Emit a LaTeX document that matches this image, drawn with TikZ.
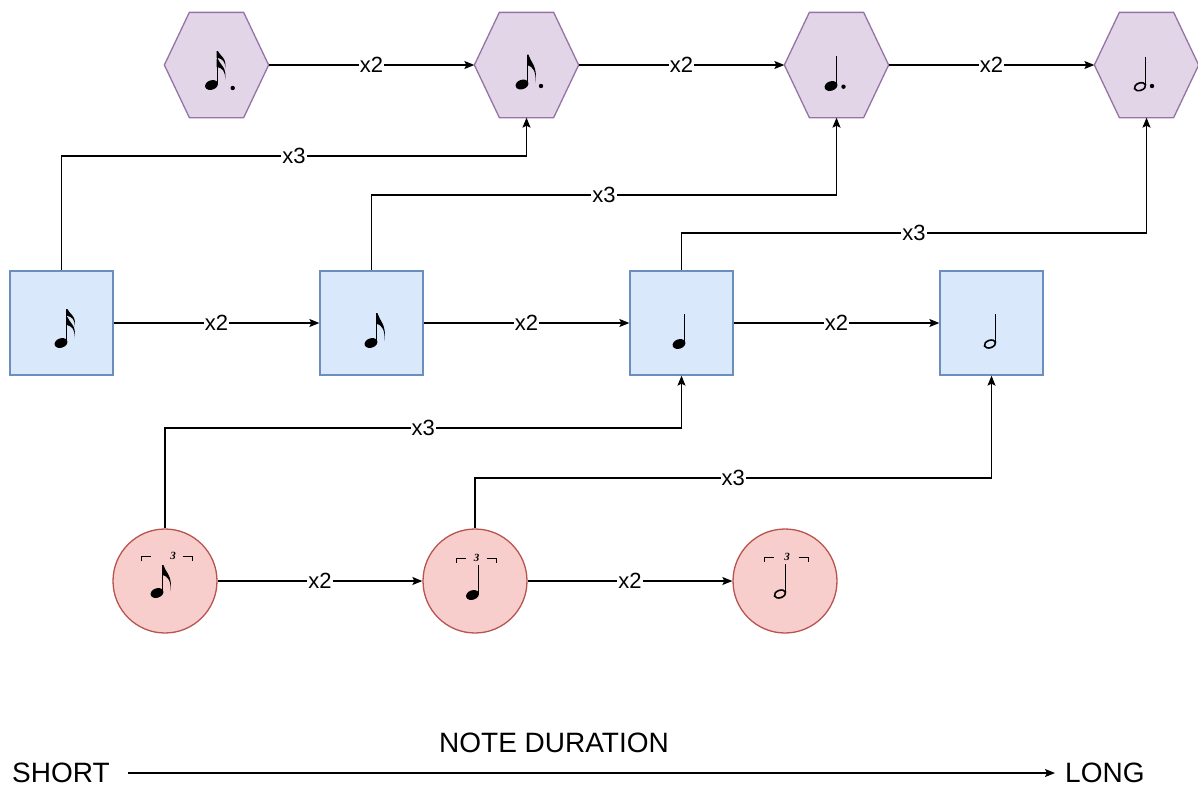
\documentclass[tikz,border=0pt]{standalone}
\usepackage{fontspec}
\setmainfont{Liberation Sans}
\newfontfamily\tripfont{Liberation Serif}
\usetikzlibrary{arrows.meta}
\definecolor{hexF}{HTML}{E1D5E7}
\definecolor{hexD}{HTML}{9673A6}
\definecolor{sqF}{HTML}{DAE8FC}
\definecolor{sqD}{HTML}{6C8EBF}
\definecolor{cF}{HTML}{F8CECC}
\definecolor{cD}{HTML}{B85450}
\newcommand\mhead{\fill[rotate=20] (0,0) ellipse [x radius=6.6, y radius=4.7];}
\newcommand\mhhead{\draw[line width=1.6pt, rotate=20] (0,0) ellipse [x radius=5.8, y radius=3.7];}
\newcommand\mstem[1]{\draw[line width=1.4pt] (5.7,-1.5) -- (5.7,-#1);}
\newcommand\mflag[2]{\begin{scope}[shift={(0,#1)},yscale=#2]\fill (5,0) -- (6.4,0) .. controls (8,7) and (16,10.5) .. (13.5,27) .. controls (14.5,15.5) and (10,11.5) .. (6.4,10.5) -- (5,10.5) -- cycle;\end{scope}}
\newcommand\mtrip[3]{\draw[line width=1pt] (#1,-32) -- (#1,-37) -- ({#1+9.5},-37);
  \draw[line width=1pt] ({#2-9.5},-37) -- (#2,-37) -- (#2,-32);
  \node[inner sep=0pt, font=\tripfont\fontsize{11}{11}\selectfont\bfseries\itshape] at (#3,-37) {3};}
\tikzset{
  shp/.style={inner sep=0pt, minimum width=103pt, minimum height=104pt, line width=1.3pt},
  hexnode/.style={shp},
  sqnode/.style={shp, draw=sqD, fill=sqF},
  cnode/.style={circle, inner sep=0pt, minimum size=104pt, draw=cD, fill=cF, line width=1.3pt},
  hexline/.style={draw=hexD, fill=hexF, line width=1.3pt, line join=miter},
  conn/.style={draw=black, line width=1.2pt, -{Stealth[length=10pt,width=8pt,inset=2pt]}},
  lbl/.style={fill=white, inner sep=1pt, font=\fontsize{22}{26}\selectfont},
  big/.style={inner sep=0pt, font=\fontsize{28}{32}\selectfont},
  notedot/.style={fill=black},
  pics/nsix/.style={code={\mhead\mstem{34}\mflag{-34}{0.66}\mflag{-26}{0.78}}},
  pics/neig/.style={code={\mhead\mstem{30}\mflag{-30}{1.05}}},
  pics/nqua/.style={code={\mhead\mstem{30}}},
  pics/nhal/.style={code={\mhhead\mstem{30}}},
  pics/teig/.style={code={\mhead\mstem{28}\mflag{-28}{0.98}\mtrip{-16}{35}{16}}},
  pics/tqua/.style={code={\mhead\mstem{30}\mtrip{-16.5}{23.5}{4}}},
  pics/thal/.style={code={\mhhead\mstem{30}\mtrip{-16}{28}{7}}},
}
\newcommand\hexpath[1]{\path[hexline] (#1.west) -- ([xshift=25pt]#1.north west) -- ([xshift=-25pt]#1.north east) -- (#1.east) -- ([xshift=-25pt]#1.south east) -- ([xshift=25pt]#1.south west) -- cycle;}
\begin{document}
\begin{tikzpicture}[x=1pt,y=-1pt]
\useasboundingbox (0,0) rectangle (1198,790);
% hexagons
\node[hexnode] (h1) at (216.5,65) {};
\node[hexnode] (h2) at (526.5,65) {};
\node[hexnode] (h3) at (836.5,65) {};
\node[hexnode] (h4) at (1146.5,65) {};
\hexpath{h1}\hexpath{h2}\hexpath{h3}\hexpath{h4}
% squares
\node[sqnode] (s1) at (61.5,323) {};
\node[sqnode] (s2) at (371.5,323) {};
\node[sqnode] (s3) at (681.5,323) {};
\node[sqnode] (s4) at (991.5,323) {};
% circles
\node[cnode] (c1) at (165,581) {};
\node[cnode] (c2) at (475,581) {};
\node[cnode] (c3) at (785,581) {};
% notes
\pic at (211.5,85) {nsix}; \fill[notedot] (232.7,88) circle (2.2);
\pic at (522,84.5) {neig}; \fill[notedot] (541,86) circle (2.2);
\pic at (831,86) {nqua}; \fill[notedot] (843.5,86.7) circle (2.2);
\pic at (1140,86.7) {nhal}; \fill[notedot] (1152,86) circle (2.2);
\pic at (61,343) {nsix};
\pic at (371,343) {neig};
\pic at (679,344) {nqua};
\pic at (990,344) {nhal};
\pic at (157,593) {teig};
\pic at (472.5,595) {tqua};
\pic at (780,594) {thal};
% connectors
\draw[conn] (h1.east) -- node[lbl]{x2} (h2.west);
\draw[conn] (h2.east) -- node[lbl]{x2} (h3.west);
\draw[conn] (h3.east) -- node[lbl]{x2} (h4.west);
\draw[conn] (s1.east) -- node[lbl]{x2} (s2.west);
\draw[conn] (s2.east) -- node[lbl]{x2} (s3.west);
\draw[conn] (s3.east) -- node[lbl]{x2} (s4.west);
\draw[conn] (c1.east) -- node[lbl]{x2} (c2.west);
\draw[conn] (c2.east) -- node[lbl]{x2} (c3.west);
\draw[conn] (s1.north) -- (s1.north |- 0,156) -| node[lbl,pos=0.25]{x3} (h2.south);
\draw[conn] (s2.north) -- (s2.north |- 0,195) -| node[lbl,pos=0.25]{x3} (h3.south);
\draw[conn] (s3.north) -- (s3.north |- 0,233) -| node[lbl,pos=0.25]{x3} (h4.south);
\draw[conn] (c1.north) -- (c1.north |- 0,428) -| node[lbl,pos=0.25]{x3} (s3.south);
\draw[conn] (c2.north) -- (c2.north |- 0,478) -| node[lbl,pos=0.25]{x3} (s4.south);
% axis
\node[big] (title) at (554,743) {NOTE DURATION};
\node[big, anchor=west] (short) at (12,773) {SHORT};
\node[big, anchor=west] (long) at (1065,773) {LONG};
\draw[conn] ([xshift=18pt]short.east) -- ([xshift=-10pt]long.west);
\end{tikzpicture}
\end{document}
